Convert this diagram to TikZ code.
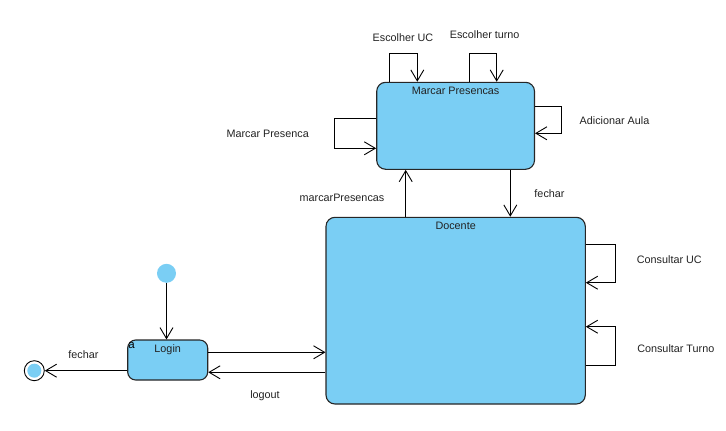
\documentclass[tikz,border=0pt]{standalone}
\usepackage{fontspec}
\setmainfont{Liberation Sans}
\usetikzlibrary{arrows.meta}
\definecolor{stfill}{RGB}{122,206,244}
\definecolor{txt}{RGB}{34,34,34}
\begin{document}
\begin{tikzpicture}[x=1pt,y=-1pt,
  every node/.style={font=\fontsize{10.8}{12}\selectfont, text=txt},
  statebox/.style={draw=black!85, line width=1.1pt, fill=stfill, rounded corners=9pt, inner sep=0pt},
  title/.style={anchor=north, inner sep=0pt, yshift=-5pt},
  lbl/.style={inner sep=0pt},
  arr/.style={draw=black, line width=0.9pt, -{Straight Barb[length=11pt,width=13pt,line width=0.9pt]}},
  ln/.style={draw=black, line width=0.9pt}]
\useasboundingbox (0,0) rectangle (726,431);

% states
\node[statebox, minimum width=157.8pt, minimum height=87pt,
  label={[title]north:Marcar Presencas}] (mp) at (455.6,125.8) {};
\node[statebox, minimum width=259.3pt, minimum height=186.7pt,
  label={[title]north:Docente}] (doc) at (455.65,310.65) {};
\node[statebox, rounded corners=8pt, minimum width=80pt, minimum height=40pt,
  label={[title, yshift=-0.5pt]north:Login}] (login) at (167.7,360) {};

% pseudo states
\node[circle, fill=stfill, minimum size=19pt, inner sep=0pt] (init) at (166.5,273.3) {};
\node[circle, draw=black, line width=0.9pt, fill=white, minimum size=20pt, inner sep=0pt] (fin) at (34.3,370.7) {};
\node[circle, fill=stfill, minimum size=14pt, inner sep=0pt] (finin) at (fin) {};

\node[lbl, font=\fontsize{11.5}{12}\selectfont, text=black] (a) at (131.5,345) {a};

% transitions
\draw[arr] (init.south) -- (init.south |- login.north);
\draw[arr] ([yshift=7.7pt]login.east) -- ([yshift=7.7pt]login.east -| doc.west);
\draw[arr] ([yshift=-12.3pt]login.east -| doc.west) -- ([yshift=-12.3pt]login.east);
\draw[arr] ([yshift=-10.7pt]login.west) -- (fin.east);
\draw[arr] (405.7,0 |- doc.north) -- (405.7,0 |- mp.south);
\draw[arr] (510.3,0 |- mp.south) -- (510.3,0 |- doc.north);

% self loops of Marcar Presencas
\draw[arr] (389.3,0 |- mp.north) -- (389.3,53.3) -- (417.3,53.3) -- (417.3,0 |- mp.north);
\draw[arr] (469.3,0 |- mp.north) -- (469.3,53.3) -- (496.7,53.3) -- (496.7,0 |- mp.north);
\draw[arr] (mp.east |- 0,106.7) -- (561.7,106.7) -- (561.7,133.3) -- (mp.east |- 0,133.3);
\draw[arr] (mp.west |- 0,118.7) -- (334.3,118.7) -- (334.3,148.3) -- (mp.west |- 0,148.3);

% self loops of Docente
\draw[arr] (doc.east |- 0,244.3) -- (615,244.3) -- (615,282.7) -- (doc.east |- 0,282.7);
\draw[arr] (doc.east |- 0,365) -- (615,365) -- (615,326.7) -- (doc.east |- 0,326.7);

% labels
\node[lbl] (l1) at (403,38) {Escolher UC};
\node[lbl] (l2) at (484.7,34.3) {Escolher turno};
\node[lbl] (l3) at (614.5,121) {Adicionar Aula};
\node[lbl] (l4) at (267.7,134) {Marcar Presenca};
\node[lbl] (l5) at (342,198) {marcarPresencas};
\node[lbl] (l6) at (549.5,194) {fechar};
\node[lbl] (l7) at (669.3,259.3) {Consultar UC};
\node[lbl] (l8) at (675.8,348.3) {Consultar Turno};
\node[lbl] (l9) at (83.5,354.3) {fechar};
\node[lbl] (l10) at (265,395.7) {logout};
\end{tikzpicture}
\end{document}
